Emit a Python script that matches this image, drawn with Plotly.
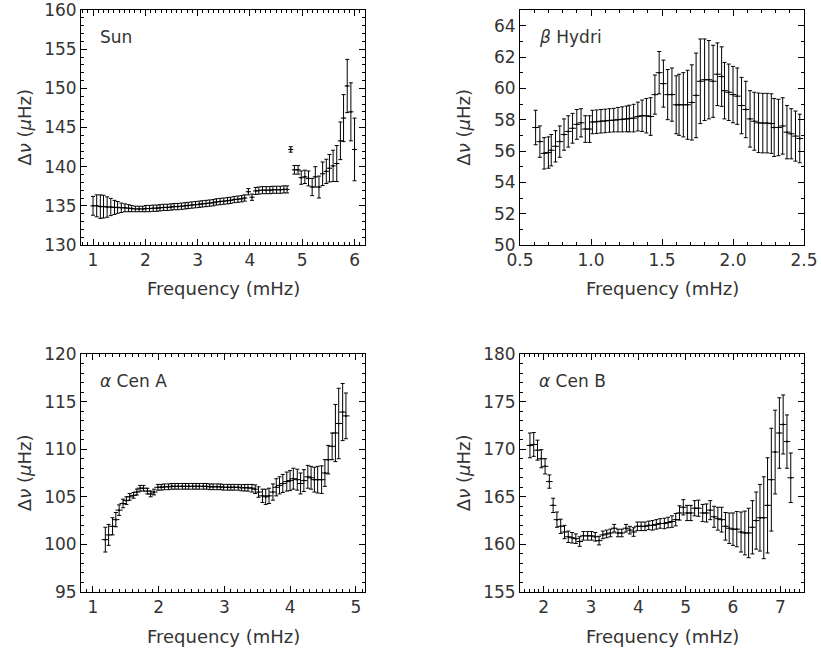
import plotly.graph_objects as go

W, H = 821, 652

# ---------------- data ----------------
sun_freq = [1.00, 1.07, 1.14, 1.20, 1.27, 1.34, 1.41, 1.47, 1.54, 1.61, 1.68, 1.74, 1.81, 1.88,
            1.95, 2.01, 2.08, 2.15, 2.22, 2.28, 2.35, 2.42, 2.49, 2.55, 2.62, 2.69, 2.76, 2.82,
            2.89, 2.96, 3.03, 3.09, 3.16, 3.23, 3.30, 3.36, 3.43, 3.50, 3.57, 3.63, 3.70, 3.77,
            3.84, 3.90, 3.97, 4.04, 4.11, 4.17, 4.24, 4.31, 4.38, 4.44, 4.51, 4.58, 4.65, 4.71,
            4.78, 4.85, 4.92, 4.98, 5.05, 5.12, 5.19, 5.25, 5.32, 5.39, 5.46, 5.52, 5.59, 5.66,
            5.73, 5.79, 5.86, 5.93, 6.00]
sun_dnu = [135.0, 135.0, 134.9, 134.9, 134.85, 134.85, 134.8, 134.8, 134.75, 134.75, 134.7, 134.65,
           134.6, 134.6, 134.6, 134.65, 134.65, 134.7, 134.7, 134.75, 134.8, 134.8, 134.85, 134.9,
           134.9, 134.95, 135.0, 135.05, 135.1, 135.15, 135.2, 135.25, 135.3, 135.35, 135.4, 135.5,
           135.55, 135.6, 135.65, 135.7, 135.8, 135.85, 135.9, 136.0, 136.8, 136.1, 136.9, 136.95,
           137.0, 137.0, 137.0, 137.05, 137.05, 137.05, 137.1, 137.1,
           142.2, 139.6, 139.6, 138.6, 138.7, 138.5, 137.4, 138.7, 137.4, 139.1, 139.4, 139.8,
           140.1, 140.4, 143.3, 146.2, 150.3, 147.0, 142.2]
sun_err = [1.2, 1.4, 1.5, 1.45, 1.3, 1.1, 0.9, 0.75, 0.6, 0.5, 0.45, 0.4, 0.35, 0.35,
           0.35, 0.4, 0.4, 0.4, 0.4, 0.4, 0.4, 0.4, 0.4, 0.4, 0.4, 0.4, 0.4, 0.4,
           0.4, 0.4, 0.4, 0.4, 0.4, 0.4, 0.4, 0.4, 0.4, 0.4, 0.4, 0.4, 0.4, 0.4,
           0.4, 0.4, 0.4, 0.4, 0.45, 0.45, 0.45, 0.45, 0.45, 0.45, 0.45, 0.45, 0.45, 0.45,
           0.35, 0.55, 0.55, 0.85, 0.85, 0.95, 1.1, 1.3, 1.4, 1.5, 1.55, 1.75,
           2.0, 2.3, 2.4, 3.0, 3.4, 3.7, 4.0]

hyd_freq = [0.61, 0.64, 0.67, 0.70, 0.72, 0.75, 0.78, 0.81, 0.84, 0.87, 0.90, 0.93, 0.96, 0.99,
            1.01, 1.04, 1.07, 1.10, 1.13, 1.16, 1.19, 1.22, 1.25, 1.27, 1.30, 1.33, 1.36, 1.39, 1.42,
            1.45, 1.48, 1.51, 1.54, 1.57, 1.60, 1.62, 1.65, 1.68, 1.71, 1.74, 1.77, 1.80, 1.83,
            1.86, 1.89, 1.92, 1.94, 1.97,
            2.00, 2.03, 2.06, 2.09, 2.12, 2.15, 2.18, 2.21, 2.24, 2.27, 2.29, 2.32, 2.35, 2.38,
            2.41, 2.44, 2.47]
hyd_dnu = [57.5, 56.6, 55.85, 55.9, 56.05, 56.3, 56.6, 57.05, 57.25, 57.45, 57.7, 57.8, 57.4, 57.4,
           57.85, 57.87, 57.9, 57.92, 57.95, 57.97, 58.0, 58.02, 58.05, 58.07, 58.1, 58.2, 58.25,
           58.25, 58.2,
           59.6, 61.0, 60.3, 59.6, 59.6, 58.95, 58.95, 58.95, 58.95, 59.1, 59.55, 60.45, 60.55,
           60.55, 60.45, 60.9, 60.75, 59.85, 59.75,
           59.6, 59.5, 58.9, 58.65, 58.05, 57.9, 57.8, 57.78, 57.78, 57.75, 57.5, 57.5, 57.6,
           57.2, 57.1, 56.95, 56.8]
hyd_err = [1.1, 1.0, 1.0, 1.0, 1.0, 1.0, 1.0, 1.0, 1.0, 0.95, 0.95, 0.9, 0.85, 0.85,
           0.75, 0.75, 0.75, 0.75, 0.75, 0.75, 0.78, 0.8, 0.82, 0.85, 0.88, 0.92, 1.0, 1.1, 1.2,
           1.25, 1.35, 1.5, 1.6, 1.7, 1.85, 1.95, 2.05, 2.2, 2.4, 2.7, 2.7, 2.6, 2.5,
           2.3, 2.0, 1.9, 1.8, 1.8,
           1.8, 1.8, 1.8, 1.8, 1.8, 1.85, 1.9, 1.9, 1.9, 1.9, 1.85, 1.8, 1.8,
           1.7, 1.6, 1.6, 1.55]

cena_freq = [1.19, 1.24, 1.30, 1.35, 1.40, 1.46, 1.51, 1.56, 1.62, 1.67, 1.72, 1.77, 1.83, 1.88,
             1.93, 1.99, 2.04, 2.09, 2.15, 2.20, 2.25, 2.30, 2.36, 2.41, 2.46, 2.52, 2.57, 2.62,
             2.68, 2.73, 2.78, 2.83, 2.89, 2.94, 2.99, 3.05, 3.10, 3.15, 3.21, 3.26, 3.31, 3.36,
             3.42, 3.47, 3.52, 3.58, 3.63, 3.68, 3.74, 3.79, 3.84, 3.89, 3.95, 4.00, 4.05, 4.11,
             4.16, 4.21, 4.27, 4.32, 4.37, 4.42, 4.48, 4.53, 4.58, 4.64, 4.69, 4.74, 4.80, 4.85]
cena_dnu = [100.5, 101.0, 101.9, 102.6, 103.6, 104.3, 104.6, 105.0, 105.15, 105.5, 105.9, 105.9,
            105.6, 105.3, 105.5, 106.0,
            106.0, 106.05, 106.05, 106.1, 106.1, 106.1, 106.1, 106.1, 106.1, 106.1, 106.1, 106.1,
            106.1, 106.1, 106.05, 106.05, 106.05, 106.05, 106.0, 106.0, 106.0, 106.0, 106.0,
            105.95, 105.95,
            105.95, 105.9, 105.8, 105.5, 105.1, 105.0, 105.1, 105.5, 106.0, 106.2, 106.4, 106.6,
            106.7,
            106.9, 106.8, 106.4, 106.7, 107.1, 107.0, 106.8, 106.8, 106.8, 107.5, 108.9, 110.3,
            111.7, 112.7, 113.9, 113.5]
cena_err = [1.3, 1.1, 0.9, 0.75, 0.55, 0.45, 0.4, 0.35, 0.3, 0.3, 0.3, 0.3, 0.3, 0.3, 0.3, 0.3,
            0.3, 0.3, 0.3, 0.3, 0.3, 0.3, 0.3, 0.3, 0.3, 0.3, 0.3, 0.3, 0.3, 0.3, 0.3, 0.3, 0.3,
            0.3, 0.3, 0.3, 0.3, 0.3, 0.3, 0.32, 0.34,
            0.35, 0.4, 0.45, 0.55, 0.7, 0.8, 0.8, 0.85, 0.9, 0.9, 0.95, 1.0, 1.05,
            1.1, 1.1, 1.1, 1.15, 1.2, 1.2, 1.3, 1.4, 1.45, 1.4, 1.5, 1.4,
            3.0, 3.7, 3.0, 2.4]

cenb_freq = [1.71, 1.79, 1.87, 1.95, 2.03, 2.12, 2.20, 2.28, 2.36, 2.44, 2.52, 2.60, 2.68, 2.76,
             2.84, 2.93, 3.01, 3.09, 3.17, 3.25, 3.33, 3.41, 3.49, 3.57, 3.65, 3.74, 3.82, 3.90,
             3.98, 4.06, 4.14, 4.22, 4.30, 4.38, 4.46, 4.55, 4.63, 4.71, 4.79, 4.87, 4.95, 5.03,
             5.11, 5.19, 5.27, 5.36, 5.44, 5.52, 5.60, 5.68, 5.76, 5.84, 5.92, 6.00, 6.08, 6.17,
             6.25, 6.33, 6.41, 6.49, 6.57, 6.65, 6.73, 6.81, 6.89, 6.98, 7.06, 7.14, 7.22]
cenb_dnu = [170.4, 170.5, 169.9, 169.0, 168.2, 166.6, 164.1, 162.6, 161.9, 161.3, 160.8, 160.7,
            160.6, 160.3, 160.9, 160.9, 160.9, 160.8, 160.4, 161.0, 161.1, 161.2, 161.7, 161.2,
            161.2, 161.7, 161.5, 161.3, 161.9, 161.9, 161.9, 162.0, 162.0, 162.1, 162.2, 162.2,
            162.3, 162.4, 162.6, 163.3, 163.9, 163.3, 163.3, 163.8, 163.8, 163.3, 163.3, 163.6,
            162.9, 162.7, 162.6, 161.9, 161.7, 161.6, 161.6, 161.3, 161.2, 161.2, 161.8, 162.5,
            162.8, 162.8, 164.1, 166.8, 169.7, 171.7, 172.6, 170.8, 167.0]
cenb_err = [1.3, 1.25, 1.05, 0.95, 0.8, 0.7, 0.75, 0.8, 0.75, 0.7, 0.6, 0.55, 0.5, 0.5,
            0.45, 0.45, 0.45, 0.45, 0.45, 0.4, 0.4, 0.4, 0.4, 0.4, 0.4, 0.4, 0.4, 0.45,
            0.45, 0.45, 0.45, 0.45, 0.5, 0.5, 0.5, 0.55, 0.55, 0.6, 0.65, 0.75, 0.8, 0.8,
            0.8, 0.8, 0.85, 0.9, 0.95, 1.0, 1.1, 1.2, 1.3, 1.45, 1.6, 1.7, 1.85, 2.1,
            2.3, 2.6, 2.8, 3.0, 3.5, 4.3, 5.0, 5.4, 4.4, 3.7, 3.1, 2.8, 2.6]

panel_names = ["Sun", "<i>β</i> Hydri", "<i>α</i> Cen A", "<i>α</i> Cen B"]
x_half_bins = [0.05, 0.024, 0.055, 0.07]

# ---------------- figure ----------------
FONT = "DejaVu Sans"
TXT = "#333333"


def xdom(a, b):
    return [a / W, b / W]


def ydom(a, b):
    return [1 - b / H, 1 - a / H]


panels = [
    dict(f=sun_freq, d=sun_dnu, e=sun_err, xd=xdom(81, 365), yd=ydom(10, 245),
         xr=[0.77, 6.2], xt=1, xm=0.1, xf="d", yr=[130, 160], yt=5, ym=1),
    dict(f=hyd_freq, d=hyd_dnu, e=hyd_err, xd=xdom(520, 804), yd=ydom(10, 245),
         xr=[0.5, 2.5], xt=0.5, xm=0.1, xf=".1f", yr=[50, 65], yt=2, ym=1),
    dict(f=cena_freq, d=cena_dnu, e=cena_err, xd=xdom(81, 365), yd=ydom(354, 592),
         xr=[0.82, 5.14], xt=1, xm=0.1, xf="d", yr=[95, 120], yt=5, ym=1),
    dict(f=cenb_freq, d=cenb_dnu, e=cenb_err, xd=xdom(520, 804), yd=ydom(354, 592),
         xr=[1.5, 7.5], xt=1, xm=0.1, xf="d", yr=[155, 180], yt=5, ym=1),
]

fig = go.Figure()
layout = dict(width=W, height=H, margin=dict(l=0, r=0, t=0, b=0, autoexpand=False),
              paper_bgcolor="white", plot_bgcolor="white", showlegend=False,
              font=dict(family=FONT, size=17, color=TXT))
annotations = []

for i, p in enumerate(panels):
    n = i + 1
    xa = "x" if n == 1 else f"x{n}"
    ya = "y" if n == 1 else f"y{n}"
    fig.add_trace(go.Scatter(
        x=p["f"], y=p["d"], xaxis=xa, yaxis=ya, mode="markers",
        marker=dict(size=2, color="black"),
        error_x=dict(type="constant", value=x_half_bins[i], width=0, thickness=1, color="black"),
        error_y=dict(type="data", array=p["e"], width=2, thickness=1, color="black"),
        hoverinfo="skip"))
    axis_common = dict(showline=True, linecolor="black", linewidth=1, mirror="allticks",
                       ticks="inside", ticklen=6, tickwidth=1, tickcolor="black",
                       showgrid=False, zeroline=False, automargin=False,
                       ticklabeloverflow="allow",
                       tickfont=dict(family=FONT, size=17, color=TXT))
    layout["xaxis" if n == 1 else f"xaxis{n}"] = dict(
        axis_common, domain=p["xd"], range=p["xr"], anchor=ya, dtick=p["xt"], tick0=0,
        tickformat=p["xf"],
        minor=dict(ticks="inside", ticklen=3, dtick=p["xm"], tick0=0, tickcolor="black"))
    layout["yaxis" if n == 1 else f"yaxis{n}"] = dict(
        axis_common, domain=p["yd"], range=p["yr"], anchor=xa, dtick=p["yt"], tick0=0,
        minor=dict(ticks="inside", ticklen=3, dtick=p["ym"], tick0=0, tickcolor="black"))
    xd = f"{xa} domain"
    yd = f"{ya} domain"
    annotations.append(dict(text=panel_names[i], xref=xd, yref=yd, x=0.06, y=0.885,
                            xanchor="left", yanchor="middle", showarrow=False,
                            font=dict(family=FONT, size=17, color=TXT)))
    annotations.append(dict(text="Frequency (mHz)", xref=xd, yref=yd, x=0.5,
                            y=-0.185, xanchor="center", yanchor="middle", showarrow=False,
                            font=dict(family=FONT, size=18, color=TXT)))
    annotations.append(dict(text="Δ<i>ν</i> (<i>μ</i>Hz)", xref=xd, yref=yd,
                            x=-0.2, y=0.5, textangle=-90, xanchor="center", yanchor="middle",
                            showarrow=False, font=dict(family=FONT, size=18, color=TXT)))

layout["annotations"] = annotations
fig.update_layout(**layout)
fig.write_html("out.html", config={"displayModeBar": False},
               post_script="document.body.style.margin='0';document.body.style.overflow='hidden';")
